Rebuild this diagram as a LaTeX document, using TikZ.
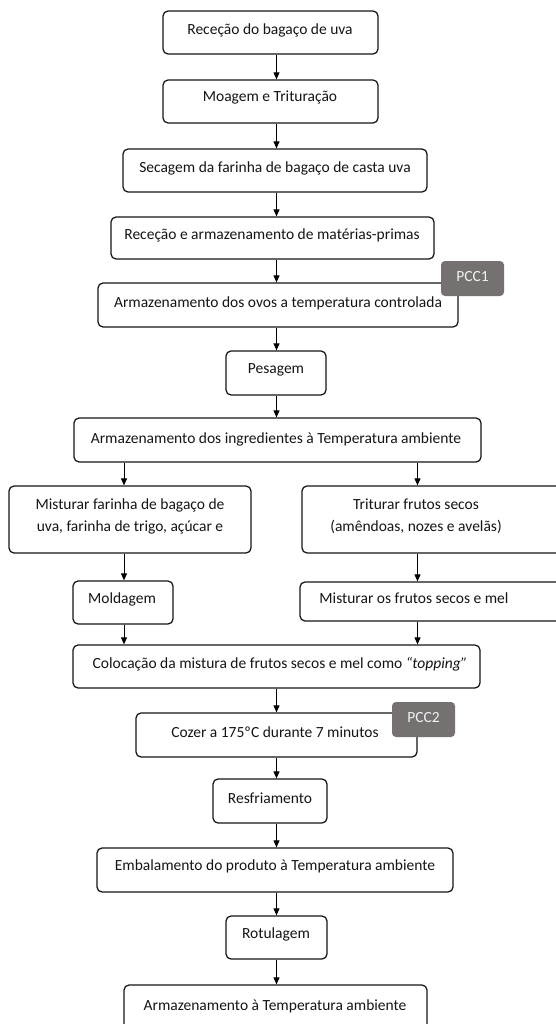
\documentclass[tikz,border=0pt]{standalone}
\usepackage{fontspec}
\setmainfont{Carlito}
\usetikzlibrary{arrows.meta}
\definecolor{pccgray}{HTML}{767171}
\definecolor{ink}{HTML}{151515}
\tikzset{
  boxst/.style={draw=ink, line width=1.25pt, rounded corners=5pt, fill=white, inner sep=0pt},
  txtst/.style={inner sep=0pt, text=ink, font=\fontsize{15.5}{22}\selectfont, align=center},
  txtone/.style={txtst, text height=.7em, text depth=.2em, yshift=-2.5pt},
  pccst/.style={fill=pccgray, draw=none, rounded corners=4pt, inner sep=0pt},
  pcctxt/.style={inner sep=0pt, text=white!95!black, font=\fontsize{15.5}{16}\selectfont, text height=.7em, text depth=.2em},
  arr/.style={draw=black, line width=1pt, -{Triangle[length=7pt,width=6pt]}}
}
\newcommand\flowbox[8]{%
  \node[boxst, minimum width={(#4-#2)*1pt}, minimum height={(#5-#3)*1pt}] (#1) at ({(#2+#4)/2},{(#3+#5)/2}) {};
  \node[txtone] (#1t) at (#6,#7) {#8};
}
\newcommand\pccbox[6]{%
  \node[pccst, minimum width={(#4-#2)*1pt}, minimum height={(#5-#3)*1pt}] (#1) at ({(#2+#4)/2},{(#3+#5)/2}) {};
  \node[pcctxt] (#1t) at ({(#2+#4)/2},{(#3+#5)/2}) {#6};
}
\begin{document}
\begin{tikzpicture}[x=1pt,y=-1pt]
\useasboundingbox (0,0) rectangle (556,1024);
\clip (0,0) rectangle (556,1024);
\coordinate (cM) at (276.5,0);
\coordinate (cL) at (124,0);
\coordinate (cR) at (417.5,0);

\flowbox{b1}{163}{11}{378}{54}{270}{30}{Receção do bagaço de uva}
\flowbox{b2}{163}{80}{378}{123}{270}{97}{Moagem e Trituração}
\flowbox{b3}{123}{149}{427}{192}{275}{168}{Secagem da farinha de bagaço de casta uva}
\flowbox{b4}{111}{217}{434}{259}{272}{235}{Receção e armazenamento de matérias-primas}
\flowbox{b5}{98}{283}{458}{327}{278}{302}{Armazenamento dos ovos a temperatura controlada}
\pccbox{p1}{441}{261}{504}{296}{PCC1}
\flowbox{b6}{226}{351}{326}{395}{276}{368}{Pesagem}
\flowbox{b7}{74}{418}{481}{462}{276}{438}{Armazenamento dos ingredientes à Temperatura ambiente}

\node[boxst, minimum width=242pt, minimum height=67pt] (b8L) at (130,519.5) {};
\node[txtst] (b8Lt) at (130,516) {Misturar farinha de bagaço de\\uva, farinha de trigo, açúcar e};
\node[boxst, minimum width=280pt, minimum height=67pt] (b8R) at (442,519.5) {};
\node[txtst] (b8Rt) at (416,516) {Triturar frutos secos\\(amêndoas, nozes e avelãs)};

\flowbox{b9L}{73}{581}{173}{624}{122}{598}{Moldagem}
\flowbox{b9R}{300}{582}{580}{621}{414}{598}{Misturar os frutos secos e mel}
\flowbox{b10}{73}{645}{480}{688}{280}{663}{Colocação da mistura de frutos secos e mel como \textit{“topping”}}
\flowbox{b11}{136}{713}{417}{757}{275}{732}{Cozer a 175ºC durante 7 minutos}
\pccbox{p2}{392}{702}{455}{737}{PCC2}
\flowbox{b12}{213}{779}{327}{823}{270}{798}{Resfriamento}
\flowbox{b13}{97}{848}{453}{892}{275}{865}{Embalamento do produto à Temperatura ambiente}
\flowbox{b14}{226}{916}{327}{959}{276}{933}{Rotulagem}
\flowbox{b15}{124}{985}{427}{1045}{275}{1005}{Armazenamento à Temperatura ambiente}

\draw[arr] (b1.south -| cM) -- (b2.north -| cM);
\draw[arr] (b2.south -| cM) -- (b3.north -| cM);
\draw[arr] (b3.south -| cM) -- (b4.north -| cM);
\draw[arr] (b4.south -| cM) -- (b5.north -| cM);
\draw[arr] (b5.south -| cM) -- (b6.north -| cM);
\draw[arr] (b6.south -| cM) -- (b7.north -| cM);
\draw[arr] (b7.south -| cL) -- (b8L.north -| cL);
\draw[arr] (b7.south -| cR) -- (b8R.north -| cR);
\draw[arr] (b8L.south -| cL) -- (b9L.north -| cL);
\draw[arr] (b8R.south -| cR) -- (b9R.north -| cR);
\draw[arr] (b9L.south -| cL) -- (b10.north -| cL);
\draw[arr] (b9R.south -| cR) -- (b10.north -| cR);
\draw[arr] (b10.south -| cM) -- (b11.north -| cM);
\draw[arr] (b11.south -| cM) -- (b12.north -| cM);
\draw[arr] (b12.south -| cM) -- (b13.north -| cM);
\draw[arr] (b13.south -| cM) -- (b14.north -| cM);
\draw[arr] (b14.south -| cM) -- (b15.north -| cM);
\end{tikzpicture}
\end{document}
